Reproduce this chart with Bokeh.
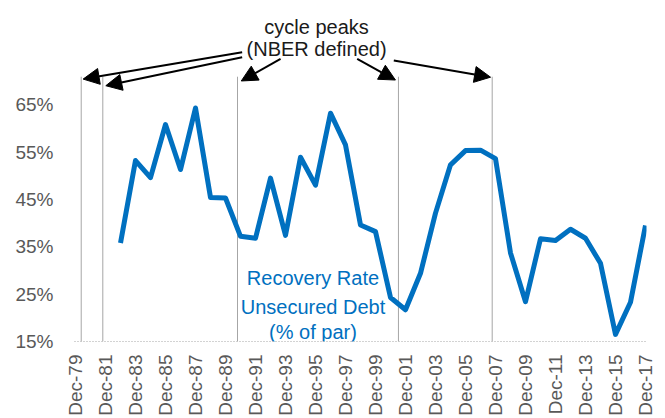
import math
from bokeh.plotting import figure
from bokeh.models import (FixedTicker, PrintfTickFormatter, Arrow, NormalHead,
                          ColumnDataSource, Range1d)
from bokeh.embed import file_html
from bokeh.resources import INLINE
from bokeh.core.properties import value

# ---- data ----
years = list(range(1982, 2018))
recovery_rate = [35.8, 53.2, 49.6, 60.8, 51.3, 64.3, 45.4, 45.3, 37.2, 36.8,
                 49.5, 37.4, 53.9, 48.0, 63.2, 56.5, 39.6, 38.2, 24.3, 21.7,
                 29.4, 42.1, 52.3, 55.3, 55.4, 53.6, 33.7, 23.4, 36.7, 36.3,
                 38.7, 36.8, 31.5, 16.5, 23.3, 39.5]

tick_years = list(range(1979, 2018, 2))
tick_labels = ["Dec-%02d" % (y % 100) for y in tick_years]
y_ticks = [15, 25, 35, 45, 55, 65]

# NBER cycle peaks (fractional year, Dec-YY = YYYY)
cycle_peaks = [1979.38, 1980.82, 1989.80, 2000.53, 2006.78]
peak_line_top = 70.9

annotation_lines = ["cycle peaks", "(NBER defined)"]
series_label_lines = ["Recovery Rate", "Unsecured Debt", "(% of par)"]

FONT = "Liberation Sans"
GREY = "#595959"
BLUE = "#0070C0"

p = figure(width=665, height=418,
           x_range=Range1d(1978.933, 2017.067), y_range=Range1d(15, 85.3),
           output_backend="svg", toolbar_location=None,
           min_border_left=74, min_border_right=19,
           min_border_top=8, min_border_bottom=77)
p.outline_line_color = None
p.xgrid.visible = False
p.ygrid.visible = False
p.background_fill_color = "white"
p.border_fill_color = "white"

# y axis
ya = p.yaxis[0]
ya.ticker = FixedTicker(ticks=y_ticks)
ya.formatter = PrintfTickFormatter(format="%d%%")
ya.axis_line_color = None
ya.major_tick_line_color = None
ya.minor_tick_line_color = None
ya.major_tick_out = 0
ya.major_label_standoff = 21
ya.major_label_text_font = FONT
ya.major_label_text_font_size = "19px"
ya.major_label_text_color = GREY

# x axis
xa = p.xaxis[0]
xa.ticker = FixedTicker(ticks=tick_years)
xa.major_label_overrides = {y: l for y, l in zip(tick_years, tick_labels)}
xa.major_label_orientation = math.pi / 2
xa.axis_line_color = "#a6a6a6"
xa.axis_line_dash = "1 2"
xa.axis_line_width = 1
xa.major_tick_line_color = None
xa.minor_tick_line_color = None
xa.major_tick_out = 0
xa.major_label_standoff = 13
xa.major_label_text_font = FONT
xa.major_label_text_font_size = "19px"
xa.major_label_text_color = GREY

# cycle peak lines
p.segment(x0=cycle_peaks, y0=[15] * len(cycle_peaks),
          x1=cycle_peaks, y1=[peak_line_top] * len(cycle_peaks),
          line_color="#a6a6a6", line_width=1)

# recovery rate line
src = ColumnDataSource(data=dict(x=years, y=recovery_rate))
p.line("x", "y", source=src, line_color=BLUE, line_width=5, line_join="round")

# annotation text
p.text(x=[1995.07, 1995.07], y=[81.35, 76.8], text=annotation_lines,
       text_font=value(FONT), text_font_size="20px", text_color="#1a1a1a",
       text_align="center", text_baseline="alphabetic")

# series label
p.text(x=[1994.83] * 3, y=[28.36, 22.24, 17.1], text=series_label_lines,
       text_font=value(FONT), text_font_size="20px", text_color=BLUE,
       text_align="center", text_baseline="alphabetic")

# arrows from annotation to peak lines
arrow_starts = [(1990.11, 76.07), (1990.11, 75.02), (1992.67, 74.68),
                (1997.78, 74.68), (2000.22, 74.32)]
tip_offsets = [(0.13, -0.5), (0.2, -1.9), (0.25, -0.9), (-0.2, -0.7), (-0.11, -0.1)]
for (xs, ys), pk, (dx, dy) in zip(arrow_starts, cycle_peaks, tip_offsets):
    p.add_layout(Arrow(end=NormalHead(size=16, fill_color="black", line_color="black"),
                       x_start=xs, y_start=ys, x_end=pk + dx, y_end=peak_line_top + dy,
                       line_color="black", line_width=2))

open("out.html", "w").write(file_html(p, INLINE))
